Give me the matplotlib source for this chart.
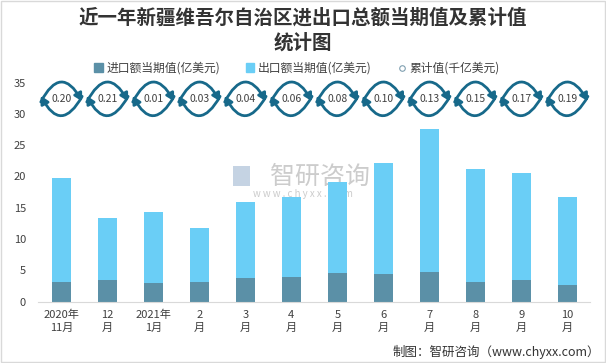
import matplotlib
matplotlib.use('Agg')
import matplotlib.pyplot as plt
from matplotlib.patches import Patch, Rectangle
from matplotlib.lines import Line2D
import numpy as np

plt.rcParams['font.family'] = ['Noto Sans CJK SC', 'DejaVu Sans']

# Data
months = ['2020年\n11月', '12\n月', '2021年\n1月', '2\n月', '3\n月', '4\n月',
          '5\n月', '6\n月', '7\n月', '8\n月', '9\n月', '10\n月']
import_vals = [3.15, 3.47, 2.99, 3.15, 3.79, 3.95, 4.58, 4.42, 4.74, 3.15, 3.47, 2.67]
total_vals = [19.76, 13.37, 14.33, 11.77, 15.9, 16.7, 19.1, 22.15, 27.6, 21.2, 20.56, 16.7]
export_vals = [round(t - i, 2) for t, i in zip(total_vals, import_vals)]
cumulative = [0.20, 0.21, 0.01, 0.03, 0.04, 0.06, 0.08, 0.10, 0.13, 0.15, 0.17, 0.19]

# Colors
c_import = '#5B90A7'
c_export = '#6ACEF6'
c_icon = '#17698A'
c_text = '#404040'

fig = plt.figure(figsize=(6.06, 3.63), dpi=100, facecolor='white')
ax = fig.add_axes([0.0635, 0.169, 0.9105, 0.6035])

x = np.arange(len(months))
ax.bar(x, import_vals, width=0.41, color=c_import, zorder=2)
ax.bar(x, export_vals, width=0.41, bottom=import_vals, color=c_export, zorder=2)

ax.set_xlim(-0.5, len(months) - 0.5)
ax.set_ylim(0, 35)
ax.set_yticks(np.arange(0, 36, 5))
ax.set_xticks(x)
ax.set_xticklabels(months, linespacing=1.35)
ax.tick_params(axis='both', length=0, labelsize=8, labelcolor=c_text)
ax.tick_params(axis='y', pad=9)
ax.tick_params(axis='x', pad=6)
for s in ['left', 'top', 'right']:
    ax.spines[s].set_visible(False)
ax.spines['bottom'].set_color('#d9d9d9')

# Cumulative value icons (circular arrows) along the top
yc = 32.4
for xi, val in zip(x, cumulative):
    style = dict(arrowstyle='-|>,head_length=0.45,head_width=0.25',
                 connectionstyle='arc3,rad=-0.92', color=c_icon, lw=2.0,
                 shrinkA=0, shrinkB=0, mutation_scale=10)
    ax.annotate('', xy=(xi + 0.45, yc - 0.4), xytext=(xi - 0.45, yc - 0.5),
                arrowprops=style, zorder=3)
    ax.annotate('', xy=(xi - 0.45, yc + 0.5), xytext=(xi + 0.45, yc + 0.4),
                arrowprops=style, zorder=3)
    ax.text(xi, yc, f'{val:.2f}', ha='center', va='center', fontsize=7.5,
            color=c_text, zorder=4)

# Watermark
ax.text(0.51, 0.57, '智研咨询', transform=ax.transAxes, fontsize=18,
        color='#cccccc', ha='center', va='center', zorder=1)
ax.text(0.48, 0.49, 'w w w . c h y x x . c o m', transform=ax.transAxes,
        fontsize=7, color='#cccccc', ha='center', va='center', zorder=1)
ax.add_patch(Rectangle((0.353, 0.53), 0.03, 0.09, transform=ax.transAxes,
                       fc='#c5d3e3', ec='none', zorder=1))

# Title
fig.text(0.5, 1 - 18 / 363, '近一年新疆维吾尔自治区进出口总额当期值及累计值',
         ha='center', va='center', fontsize=14, weight='bold', color='#333333')
fig.text(0.5, 1 - 43 / 363, '统计图',
         ha='center', va='center', fontsize=14, weight='bold', color='#333333')

# Legend
handles = [Patch(color=c_import), Patch(color=c_export),
           Line2D([], [], marker='o', ls='none', mfc='white', mec='#7f9fb0',
                  ms=4, mew=0.8)]
labels = ['进口额当期值(亿美元)', '出口额当期值(亿美元)', '累计值(千亿美元)']
fig.legend(handles, labels, loc='center', bbox_to_anchor=(0.49, 0.812), ncol=3,
           frameon=False, fontsize=8.5, labelcolor=c_text, handlelength=0.7,
           handleheight=0.7, handletextpad=0.3, columnspacing=2.2)

# Source
fig.text(0.99, 0.03, '制图：智研咨询（www.chyxx.com）', ha='right', va='center',
         fontsize=9, color='#333333')

# Border
fig.patches.append(Rectangle((0.001, 0.002), 0.997, 0.995, transform=fig.transFigure,
                             fill=False, ec='#d9d9d9', lw=1))

fig.savefig('out.png', dpi=100, facecolor='white')
